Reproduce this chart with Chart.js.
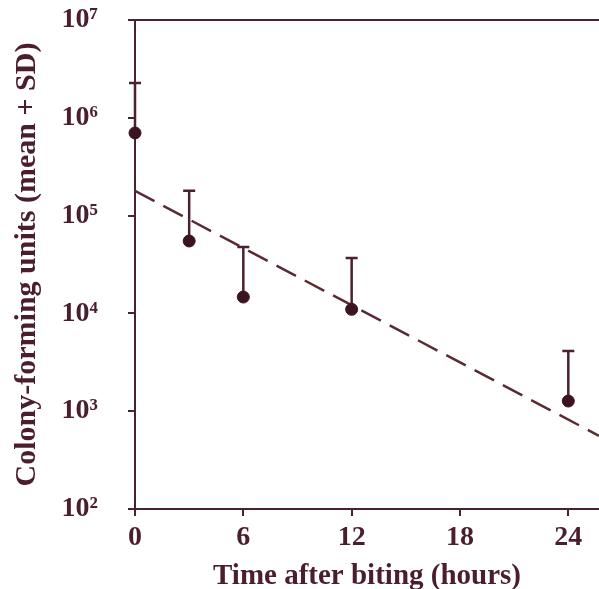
<!DOCTYPE html>
<html>
<head>
<meta charset="utf-8">
<script src="https://cdn.jsdelivr.net/npm/chart.js@4.4.1/dist/chart.umd.min.js"></script>
<style>
  html, body { margin: 0; padding: 0; background: #fff; }
  #wrap { width: 599px; height: 589px; }
</style>
</head>
<body>
<div id="wrap"><canvas id="c" width="599" height="589"></canvas></div>
<script>
// hours after biting
const hours = [0, 3, 6, 12, 24];
// mean colony-forming units
const cfuMean = [7.0e5, 5.5e4, 1.47e4, 1.1e4, 1.27e3];
// mean + SD (upper end of the error bar)
const cfuUpper = [2.27e6, 1.79e5, 4.77e4, 3.68e4, 4.13e3];
// fitted regression line, two ends
const fitHours = [0, 25.7];
const fitCfu = [1.79e5, 5.6e2];
// y ticks: powers of ten
const yExponents = [2, 3, 4, 5, 6, 7];
const xTicks = [0, 6, 12, 18, 24];

const ink = "#4a1e2e";
const lineInk = "#4a2033";
const sup = { 2: "\u00B2", 3: "\u00B3", 4: "\u2074", 5: "\u2075", 6: "\u2076", 7: "\u2077" };
const serif = "'Liberation Serif', 'Times New Roman', 'DejaVu Serif', serif";

const errorBars = {
  id: "errorBars",
  beforeDatasetsDraw(chart) {
    const ctx = chart.ctx;
    const x = chart.scales.x, y = chart.scales.y;
    ctx.save();
    ctx.strokeStyle = lineInk;
    ctx.lineWidth = 2.5;
    for (let i = 0; i < hours.length; i++) {
      const px = x.getPixelForValue(hours[i]);
      const y0 = y.getPixelForValue(cfuMean[i]);
      const y1 = y.getPixelForValue(cfuUpper[i]);
      ctx.beginPath();
      ctx.moveTo(px, y0);
      ctx.lineTo(px, y1);
      ctx.moveTo(px - 6, y1);
      ctx.lineTo(px + 6, y1);
      ctx.stroke();
    }
    ctx.restore();
  }
};

const topFrame = {
  id: "topFrame",
  afterDraw(chart) {
    const a = chart.chartArea, ctx = chart.ctx;
    ctx.save();
    ctx.strokeStyle = lineInk;
    ctx.lineWidth = 2;
    ctx.beginPath();
    ctx.moveTo(a.left, a.top);
    ctx.lineTo(a.right, a.top);
    ctx.stroke();
    ctx.restore();
  }
};

new Chart(document.getElementById("c"), {
  "type": "scatter",
  "data": {
    "datasets": [
      {
        "label": "mean",
        "data": hours.map((h, i) => ({ "x": h, "y": cfuMean[i] })),
        "pointRadius": 6,
        "pointBackgroundColor": "#3b1420",
        "pointBorderColor": "#3b1420",
        "clip": false,
        "order": 0
      },
      {
        "type": "line",
        "label": "fit",
        "data": fitHours.map((h, i) => ({ "x": h, "y": fitCfu[i] })),
        "borderColor": "#5a2b33",
        "borderWidth": 2.5,
        "borderDash": [22, 10],
        "pointRadius": 0,
        "fill": false,
        "order": 1
      }
    ]
  },
  "options": {
    "responsive": false,
    "animation": false,
    "layout": { "autoPadding": false, "padding": { "top": 20, "right": 0, "left": 0, "bottom": 0 } },
    "plugins": {
      "legend": { "display": false },
      "tooltip": { "enabled": false }
    },
    "scales": {
      "x": {
        "type": "linear",
        "min": 0,
        "max": 25.7,
        "afterFit": (s) => { s.height = 80; s.paddingLeft = 0; s.paddingRight = 0; },
        "afterBuildTicks": (s) => { s.ticks = xTicks.map(v => ({ "value": v })); },
        "border": { "display": true, "color": lineInk, "width": 2 },
        "grid": { "drawOnChartArea": false, "drawTicks": true, "tickLength": 7, "color": lineInk, "lineWidth": 2 },
        "ticks": {
          "color": ink,
          "padding": 5,
          "maxRotation": 0,
          "font": { "family": serif, "size": 28, "weight": "bold" }
        },
        "title": {
          "display": true,
          "text": "Time after biting (hours)",
          "color": ink,
          "padding": { "top": 0, "bottom": 0 },
          "font": { "family": serif, "size": 29, "weight": "bold", "lineHeight": 0.85 }
        }
      },
      "y": {
        "type": "logarithmic",
        "min": 100,
        "max": 1e7,
        "afterFit": (s) => { s.width = 135; s.paddingTop = 0; s.paddingBottom = 0; },
        "afterBuildTicks": (s) => { s.ticks = yExponents.map(e => ({ "value": Math.pow(10, e) })); },
        "border": { "display": true, "color": lineInk, "width": 2 },
        "grid": { "drawOnChartArea": false, "drawTicks": true, "tickLength": 7, "color": lineInk, "lineWidth": 2 },
        "ticks": {
          "color": ink,
          "padding": 30,
          "font": { "family": serif, "size": 28, "weight": "bold" },
          "callback": (v) => "10" + sup[Math.round(Math.log10(v))]
        },
        "title": {
          "display": true,
          "text": "Colony-forming units (mean + SD)",
          "color": ink,
          "padding": { "top": 9, "bottom": 0 },
          "font": { "family": serif, "size": 30, "weight": "bold", "lineHeight": 1.2 }
        }
      }
    }
  },
  "plugins": [errorBars, topFrame]
});
</script>
</body>
</html>
